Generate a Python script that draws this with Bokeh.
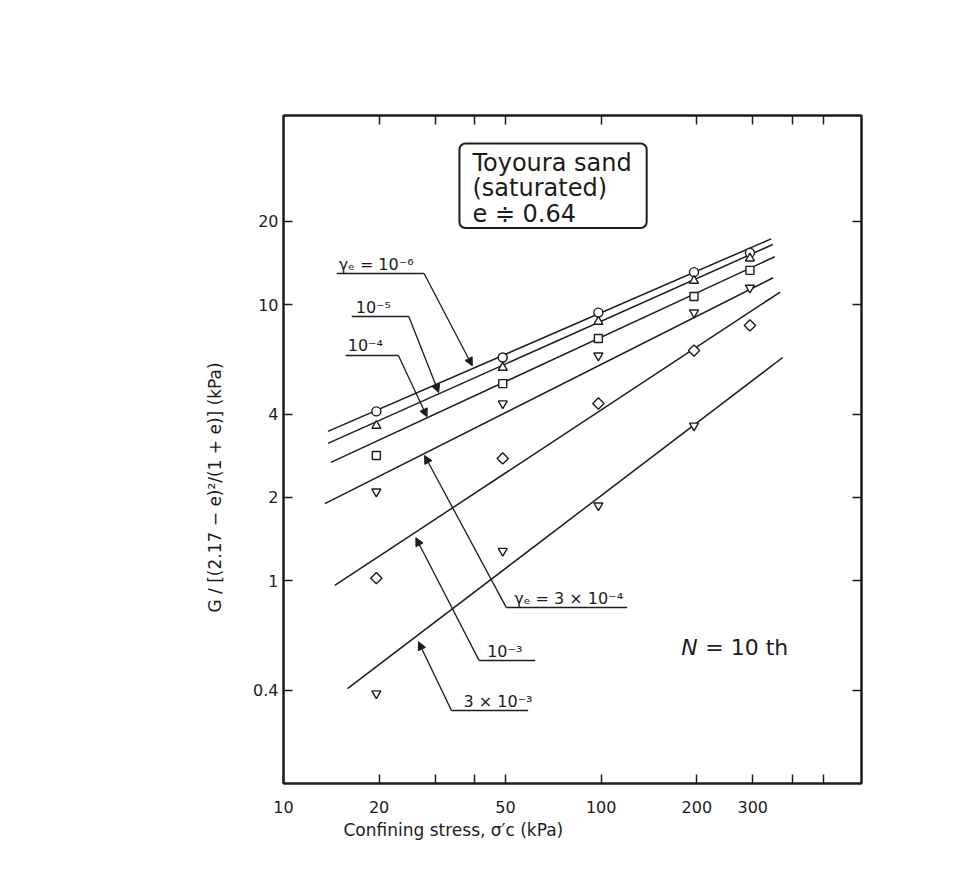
import math
from bokeh.plotting import figure
from bokeh.models import FixedTicker, LogAxis, Label, Arrow, NormalHead, Range1d, Title
from bokeh.embed import file_html
from bokeh.resources import INLINE

# ---- data ----
stress = [19.6, 49, 98, 196, 294]            # confining stress (kPa)
g_1e6 = [4.10, 6.43, 9.35, 13.1, 15.4]        # gamma = 1e-6 (circles)
g_1e5 = [3.64, 5.91, 8.67, 12.2, 14.7]        # gamma = 1e-5 (triangles)
g_1e4 = [2.84, 5.17, 7.53, 10.7, 13.3]        # gamma = 1e-4 (squares)
g_3e4 = [2.10, 4.38, 6.53, 9.35, 11.5]        # gamma = 3e-4 (inverted triangles)
g_1e3 = [1.02, 2.77, 4.38, 6.81, 8.40]        # gamma = 1e-3 (diamonds)
stress_3e3 = [19.6, 49, 98, 196]
g_3e3 = [0.39, 1.28, 1.87, 3.64]              # gamma = 3e-3 (inverted triangles)

# fitted straight lines (log-log), start and end points
fit_x0 = [13.8, 13.8, 14.1, 13.5, 14.5, 15.9]
fit_y0 = [3.47, 3.14, 2.68, 1.90, 0.96, 0.406]
fit_x1 = [343, 347, 352, 348, 366, 373]
fit_y1 = [17.3, 16.5, 14.9, 12.5, 11.1, 6.43]

x_ticks = [10, 20, 30, 40, 50, 100, 200, 300, 400, 500]
x_tick_labels = {10: "10", 20: "20", 30: "", 40: "", 50: "50", 100: "100",
                 200: "200", 300: "300", 400: "", 500: ""}
y_ticks = [0.4, 1, 2, 4, 10, 20]
y_tick_labels = {0.4: "0.4", 1: "1", 2: "2", 4: "4", 10: "10", 20: "20"}

INK = "#1c1c1c"
FONT = "DejaVu Sans"

p = figure(width=975, height=869, x_axis_type="log", y_axis_type="log",
           x_range=Range1d(10, 660), y_range=Range1d(0.184, 48.4),
           output_backend="svg", toolbar_location=None,
           min_border_left=283, min_border_right=114,
           min_border_top=115, min_border_bottom=86)
p.background_fill_color = "white"
p.border_fill_color = "white"
p.grid.visible = False
p.outline_line_color = INK
p.outline_line_width = 2


def style_axis(ax, ticks, overrides, show_labels=True):
    ax.ticker = FixedTicker(ticks=ticks, minor_ticks=[])
    ax.major_label_overrides = overrides if show_labels else {k: "" for k in overrides}
    ax.major_tick_in = 9
    ax.major_tick_out = 0
    ax.minor_tick_in = 0
    ax.minor_tick_out = 0
    ax.axis_line_color = INK
    ax.axis_line_width = 2
    ax.major_tick_line_color = INK
    ax.major_tick_line_width = 1.5
    ax.major_label_text_font = FONT
    ax.major_label_text_font_size = "16px"
    ax.major_label_text_color = INK


style_axis(p.xaxis[0], x_ticks, x_tick_labels)
p.xaxis[0].major_label_standoff = 17
style_axis(p.yaxis[0], y_ticks, y_tick_labels)
p.yaxis[0].major_label_standoff = 5

top = LogAxis()
style_axis(top, [t for t in x_ticks if t != 10], {t: "" for t in x_ticks if t != 10}, False)
p.add_layout(top, "above")
right = LogAxis()
style_axis(right, y_ticks, {t: "" for t in y_ticks}, False)
p.add_layout(right, "right")

p.add_layout(Title(text="Confining stress, σ′c (kPa)", align="left", offset=60,
                   text_font=FONT, text_font_size="17px", text_font_style="normal",
                   text_color=INK, standoff=4), "below")
p.add_layout(Title(text="G / [(2.17 − e)²/(1 + e)] (kPa)", align="left", offset=171,
                   text_font=FONT, text_font_size="17px", text_font_style="normal",
                   text_color=INK, standoff=52), "left")

# fitted lines
p.segment(x0=fit_x0, y0=fit_y0, x1=fit_x1, y1=fit_y1, line_color=INK, line_width=1.5)

# data points
mk = dict(size=9, fill_color="white", line_color=INK, line_width=1.4)
p.scatter(stress, g_1e6, marker="circle", **mk)
p.scatter(stress, g_1e5, marker="triangle", **mk)
p.scatter(stress, g_1e4, marker="square", size=8, fill_color="white", line_color=INK, line_width=1.4)
p.scatter(stress, g_3e4, marker="inverted_triangle", **mk)
p.scatter(stress, g_1e3, marker="square", angle=math.pi / 4, size=8, fill_color="white",
          line_color=INK, line_width=1.4)
p.scatter(stress_3e3, g_3e3, marker="inverted_triangle", **mk)

# leader annotations: (label, underline x0, underline x1, y, elbow x, tip x, tip y, text x-offset)
annots = [
    ("γₑ = 10⁻⁶", 14.7, 27.7, 12.95, 27.7, 39.3, 6.0, 2),
    ("10⁻⁵", 16.4, 24.8, 9.05, 24.8, 30.8, 4.8, 4),
    ("10⁻⁴", 15.7, 23.0, 6.54, 23.0, 28.3, 3.92, 2),
    ("γₑ = 3 × 10⁻⁴", 50.3, 120.7, 0.798, 50.3, 27.8, 2.84, 8),
    ("10⁻³", 41.3, 62.0, 0.513, 41.3, 26.1, 1.43, 8),
    ("3 × 10⁻³", 33.8, 58.9, 0.338, 33.8, 26.6, 0.60, 12),
]
for txt, ux0, ux1, uy, ex, tx, ty, xo in annots:
    p.line([ux0, ux1], [uy, uy], line_color=INK, line_width=1.5)
    p.add_layout(Arrow(end=NormalHead(size=8, fill_color=INK, line_color=INK),
                       x_start=ex, y_start=uy, x_end=tx, y_end=ty,
                       line_color=INK, line_width=1.3))
    p.add_layout(Label(x=ux0, y=uy, text=txt, x_offset=xo, text_baseline="bottom",
                       text_align="left", text_font=FONT, text_font_size="16px",
                       text_color=INK))

# title box  (padding: left, right, top, bottom)
p.add_layout(Label(x=35.8, y=38.3, text="Toyoura sand\n(saturated)\ne ≑ 0.64",
                   text_align="left", text_baseline="top", text_font=FONT,
                   text_font_size="24px", text_color=INK, text_line_height=0.92,
                   border_line_color=INK, border_line_width=2, border_radius=6,
                   background_fill_color="white", padding=(13, 15, 5, 0)))

# N = 10 th
p.add_layout(Label(x=178.7, y=0.572, text="N", text_font_style="italic",
                   text_baseline="middle", text_align="left", text_font=FONT,
                   text_font_size="22px", text_color=INK))
p.add_layout(Label(x=178.7, y=0.572, text="= 10 th", x_offset=24,
                   text_baseline="middle", text_align="left", text_font=FONT,
                   text_font_size="22px", text_color=INK))

open("out.html", "w").write(file_html(p, INLINE))
